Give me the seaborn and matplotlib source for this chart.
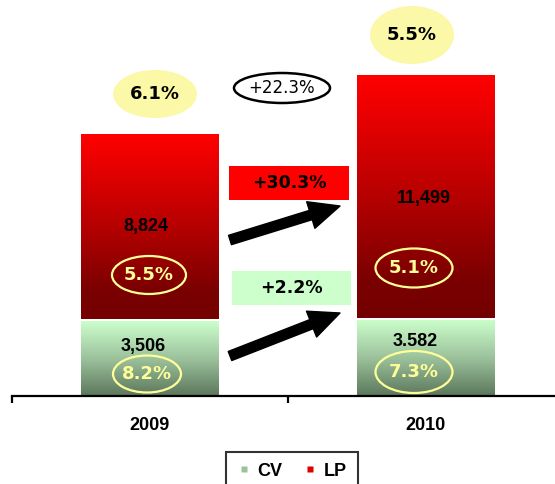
import numpy as np
import matplotlib
matplotlib.use("Agg")
import matplotlib.pyplot as plt
import seaborn as sns
import pandas as pd
from matplotlib.patches import Ellipse, Rectangle, FancyArrowPatch
from matplotlib.lines import Line2D
from matplotlib.colors import LinearSegmentedColormap

# ---- data ----
years = ["2009", "2010"]
cv_values = [3506, 3582]
lp_values = [8824, 11499]
cv_labels = ["3,506", "3.582"]
lp_labels = ["8,824", "11,499"]
cv_share = ["8.2%", "7.3%"]
lp_share = ["5.5%", "5.1%"]
total_share = ["6.1%", "5.5%"]
lp_growth = "+30.3%"
cv_growth = "+2.2%"
total_growth = "+22.3%"
series_names = ["CV", "LP"]

sns.set_theme(style="white")
plt.rcParams['font.family'] = ['Liberation Sans', 'DejaVu Sans']
plt.rcParams['text.color'] = 'black'
plt.rcParams['xtick.color'] = 'black'
plt.rcParams['xtick.labelcolor'] = 'black'

W, H = 555, 484
fig = plt.figure(figsize=(W / 100, H / 100), dpi=100)
fig.patch.set_facecolor("white")
PX_X = 276.0      # pixels per category
Y_PER_PX = 47.0   # data units per pixel
ax = fig.add_axes([12 / W, 88 / H, 543 / W, 396 / H])

df = pd.DataFrame({"year": years, "CV": cv_values, "LP": lp_values})
df["total"] = df["CV"] + df["LP"]
sns.barplot(data=df, x="year", y="total", color="white", width=0.5, ax=ax,
            saturation=1, edgecolor="none")
sns.barplot(data=df, x="year", y="CV", color="white", width=0.5, ax=ax,
            saturation=1, edgecolor="none")

lp_cmap = LinearSegmentedColormap.from_list(
    "lp", [(0, "#740000"), (0.15, "#7A0000"), (0.5, "#B60000"),
           (0.8, "#E40000"), (1.0, "#FF0000")])
cv_cmap = LinearSegmentedColormap.from_list("cv", ["#5C775C", "#9CC29C", "#CCFFCC"])
grad = np.linspace(0, 1, 256).reshape(-1, 1)
gap = 2 * Y_PER_PX
for i in range(len(years)):
    p_tot = ax.patches[i]
    p_cv = ax.patches[len(years) + i]
    x0, w = p_tot.get_x(), p_tot.get_width()
    cv = p_cv.get_height()
    tot = p_tot.get_height()
    im = ax.imshow(grad, extent=[x0, x0 + w, cv + gap, tot], origin="lower",
                   cmap=lp_cmap, aspect="auto", zorder=2, interpolation="bilinear")
    im.set_clip_path(p_tot)
    im2 = ax.imshow(grad, extent=[x0, x0 + w, 0, cv], origin="lower",
                    cmap=cv_cmap, aspect="auto", zorder=2, interpolation="bilinear")
    im2.set_clip_path(p_cv)

# axes styling
for s in ["top", "right", "left"]:
    ax.spines[s].set_visible(False)
ax.spines["bottom"].set_color("black")
ax.spines["bottom"].set_linewidth(1.6)
ax.set_yticks([])
ax.set_xticks([0, 1])
ax.set_xticklabels(years, fontsize=13, fontweight="bold", color="black")
ax.set_xticks([-0.5, 0.5, 1.5], minor=True)
ax.tick_params(axis="x", which="major", length=0, pad=15)
ax.tick_params(axis="x", which="minor", length=5, width=1.6, direction="out",
               color="black", bottom=True)
ax.set_xlabel("")
ax.set_ylabel("")
ax.patch.set_alpha(0)
ax.set_xlim(-0.5, -0.5 + 543 / PX_X)
ax.set_ylim(0, 396 * Y_PER_PX)


def px2x(px):
    return (px - 12) / PX_X - 0.5


def py2y(py):
    return (396 - py) * Y_PER_PX


# values in bars
lp_label_y = [py2y(227), py2y(198)]
lp_label_x = [px2x(146), px2x(424)]
cv_label_y = [py2y(347), py2y(341)]
cv_label_x = [px2x(143), px2x(415)]
for i in range(2):
    ax.text(lp_label_x[i], lp_label_y[i], lp_labels[i], ha="center", va="center",
            fontsize=13, fontweight="bold", color="black", zorder=5)
    ax.text(cv_label_x[i], cv_label_y[i], cv_labels[i], ha="center", va="center",
            fontsize=13, fontweight="bold", color="black", zorder=5)

yellow = "#FFFF99"
# share ellipses in bars (center px, size px)
ell_specs = [
    (lp_share[0], 149, 275, 74, 38),
    (lp_share[1], 414, 268, 77, 39),
    (cv_share[0], 147, 374, 68, 37),
    (cv_share[1], 414, 372, 77, 42),
]
for txt, cx, cy, wpx, hpx in ell_specs:
    e = Ellipse((px2x(cx), py2y(cy)), wpx / PX_X, hpx * Y_PER_PX, facecolor="none",
                edgecolor=yellow, linewidth=1.6, zorder=6)
    ax.add_patch(e)
    ax.text(px2x(cx), py2y(cy), txt, ha="center", va="center", fontsize=13,
            fontweight="bold", color=yellow, family="DejaVu Sans", zorder=7)

# total share ellipses on top
top_specs = [(total_share[0], 155, 94, 84, 48), (total_share[1], 412, 35, 84, 58)]
for txt, cx, cy, wpx, hpx in top_specs:
    e = Ellipse((px2x(cx), py2y(cy)), wpx / PX_X, hpx * Y_PER_PX, facecolor="#FBF8A8",
                edgecolor="none", zorder=6, clip_on=False)
    ax.add_patch(e)
    ax.text(px2x(cx), py2y(cy), txt, ha="center", va="center", fontsize=13,
            fontweight="bold", color="black", family="DejaVu Sans", zorder=7)

# total growth ellipse
e = Ellipse((px2x(282), py2y(88)), 96 / PX_X, 30 * Y_PER_PX, facecolor="white",
            edgecolor="black", linewidth=1.8, zorder=6)
ax.add_patch(e)
ax.text(px2x(282), py2y(88), total_growth, ha="center", va="center", fontsize=12,
        color="black", family="DejaVu Sans", zorder=7)

# growth boxes
for txt, x0p, x1p, y0p, y1p, fc in [(lp_growth, 229, 349, 166, 200, "#FF0000"),
                                    (cv_growth, 232, 351, 271, 305, "#CCFFCC")]:
    r = Rectangle((px2x(x0p), py2y(y1p)), (x1p - x0p) / PX_X, (y1p - y0p) * Y_PER_PX,
                  facecolor=fc, edgecolor="none", zorder=4)
    ax.add_patch(r)
    ax.text(px2x((x0p + x1p) / 2), py2y((y0p + y1p) / 2), txt, ha="center",
            va="center", fontsize=12.5, fontweight="bold", color="black",
            family="DejaVu Sans", zorder=5)

# arrows
for (xa, ya), (xb, yb) in [((230, 240), (340, 206)), ((230, 356), (340, 313))]:
    arr = FancyArrowPatch((px2x(xa), py2y(ya)), (px2x(xb), py2y(yb)),
                          arrowstyle="simple,head_length=22,head_width=20,tail_width=7",
                          mutation_scale=1, shrinkA=0, shrinkB=0, color="black",
                          zorder=5)
    ax.add_patch(arr)

# legend
handles = [
    Line2D([], [], marker="s", linestyle="none", markerfacecolor="#9CC29C",
           markeredgecolor="none", markersize=4),
    Line2D([], [], marker="s", linestyle="none", markerfacecolor="#E00000",
           markeredgecolor="none", markersize=4),
]
leg = fig.legend(handles, series_names, loc="center",
                 bbox_to_anchor=(292 / W, (484 - 471) / H), ncol=2, frameon=True,
                 fancybox=False, edgecolor="black",
                 prop=dict(weight="bold", size=13, family="Liberation Sans"),
                 handlelength=0.7, handletextpad=0.4, columnspacing=1.2,
                 borderpad=0.6, labelcolor="black")
leg.get_frame().set_linewidth(1.5)

fig.savefig("out.png", dpi=100, facecolor="white")
